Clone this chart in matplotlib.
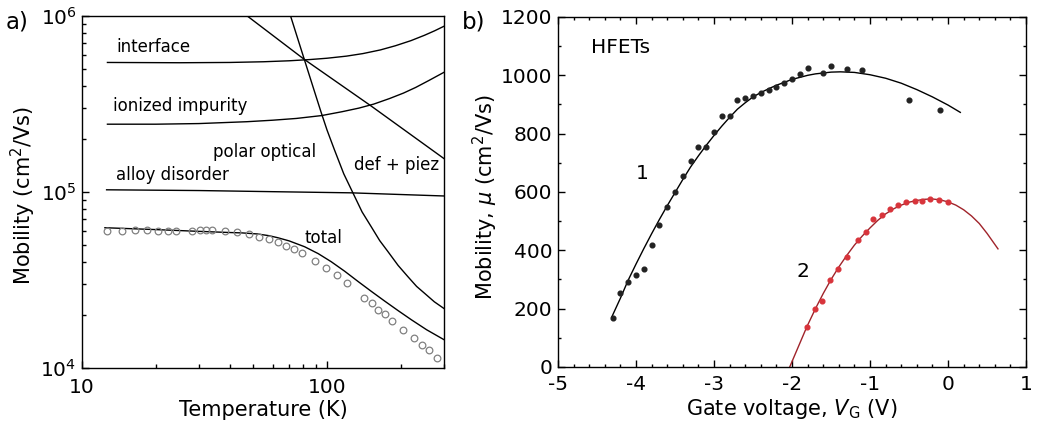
# mobility.py
# (a) scattering-limited mobility vs temperature, (b) HFET mobility vs gate voltage
import numpy as np
import matplotlib
matplotlib.use('Agg')
import matplotlib.pyplot as plt
from matplotlib.ticker import FixedLocator, FixedFormatter, NullFormatter, LogLocator, MultipleLocator

plt.rcParams['font.family'] = ['DejaVu Sans']
plt.rcParams['mathtext.fontset'] = 'dejavusans'
plt.rcParams['axes.unicode_minus'] = False

# ---- panel a: mobility (cm^2/Vs) vs T (K)
T_interface = [12.7, 25, 40, 55, 70, 85, 100, 120, 140, 165, 190, 220, 250, 275, 300]
mu_interface = [5.45e5, 5.43e5, 5.45e5, 5.50e5, 5.57e5, 5.66e5, 5.76e5, 5.92e5,
                6.12e5, 6.42e5, 6.78e5, 7.25e5, 7.78e5, 8.25e5, 8.75e5]

T_ionized = [12.7, 20, 30, 47, 60, 75, 95, 115, 135, 155, 180, 205, 230, 260, 300]
mu_ionized = [2.43e5, 2.43e5, 2.45e5, 2.51e5, 2.56e5, 2.62e5, 2.72e5, 2.86e5,
              3.0e5, 3.16e5, 3.40e5, 3.65e5, 3.93e5, 4.30e5, 4.79e5]

T_alloy = [12.6, 30, 60, 125, 300]
mu_alloy = [1.03e5, 1.02e5, 1.005e5, 9.9e4, 9.5e4]

T_defpiez = [47.3, 80.8, 151, 300]
mu_defpiez = [1.0e6, 5.67e5, 3.09e5, 1.55e5]

T_polar = [71, 76, 81, 87.5, 94.5, 100, 107, 117, 127.5, 139, 151.5, 164, 177,
           195, 214, 232, 250, 274, 300]
mu_polar = [1.0e6, 7.41e5, 5.6e5, 3.99e5, 2.85e5, 2.25e5, 1.75e5, 1.27e5, 9.9e4,
            7.71e4, 6.35e4, 5.3e4, 4.6e4, 3.83e4, 3.3e4, 2.91e4, 2.66e4, 2.38e4,
            2.18e4]

T_total = [12.4, 20, 30, 40, 45, 52, 58, 63, 70, 81, 92, 104, 118, 134, 152,
           172, 195, 221, 255, 300]
mu_total = [6.27e4, 6.12e4, 5.98e4, 5.89e4, 5.86e4, 5.78e4, 5.65e4, 5.5e4,
            5.28e4, 4.89e4, 4.47e4, 4.02e4, 3.55e4, 3.1e4, 2.72e4, 2.4e4,
            2.12e4, 1.88e4, 1.65e4, 1.45e4]

T_meas = [12.6, 14.5, 16.5, 18.4, 20.4, 22.4, 24.3, 28.2, 30.2, 32.1, 34, 38.2,
          42.8, 47.9, 53, 58.2, 63.2, 68.3, 73.5, 79, 89.3, 99.4, 110, 121,
          141, 152, 162, 173, 184, 205, 226, 244, 260, 281]
mu_meas = [6.00e4, 6.00e4, 6.08e4, 6.08e4, 6.03e4, 6.03e4, 6.03e4, 5.98e4,
           6.08e4, 6.11e4, 6.08e4, 6.00e4, 5.90e4, 5.75e4, 5.57e4, 5.38e4,
           5.18e4, 4.96e4, 4.76e4, 4.52e4, 4.06e4, 3.72e4, 3.38e4, 3.03e4,
           2.51e4, 2.33e4, 2.14e4, 2.02e4, 1.86e4, 1.64e4, 1.49e4, 1.35e4,
           1.27e4, 1.14e4]

# ---- panel b: mobility vs gate voltage
V1_dots = [-4.3, -4.2, -4.1, -4.0, -3.9, -3.8, -3.7, -3.6, -3.5, -3.4, -3.3,
           -3.2, -3.1, -3.0, -2.9, -2.8, -2.7, -2.6, -2.5, -2.4, -2.3, -2.2,
           -2.1, -2.0, -1.9, -1.8, -1.6, -1.5, -1.3, -1.1, -0.5, -0.1]
mu1_dots = [167, 255, 292, 316, 335, 417, 486, 547, 600, 655, 705, 755, 753,
            805, 859, 859, 917, 923, 929, 938, 948, 960, 974, 989, 1005, 1025,
            1008, 1031, 1022, 1018, 916, 882]
V1_fit = [-4.31, -4.2, -4.1, -4.0, -3.9, -3.8, -3.7, -3.6, -3.5, -3.4, -3.3,
          -3.2, -3.1, -3.0, -2.9, -2.8, -2.7, -2.6, -2.5, -2.4, -2.3, -2.2,
          -2.09, -2.0, -1.9, -1.8, -1.7, -1.6, -1.5, -1.38, -1.2, -1.0, -0.8,
          -0.6, -0.4, -0.2, 0.0, 0.157]
mu1_fit = [172, 236, 298, 353, 406, 457, 506, 553, 598, 643, 686, 724, 760,
           794, 826, 856, 884, 906, 926, 941, 954, 966, 977, 986, 993, 1000,
           1005, 1008, 1011, 1012, 1010, 1002, 990, 973, 951, 926, 898, 873]

V2_dots = [-1.81, -1.71, -1.61, -1.51, -1.41, -1.29, -1.15, -1.05, -0.96,
           -0.85, -0.74, -0.64, -0.54, -0.43, -0.33, -0.23, -0.11, 0.0]
mu2_dots = [138, 198, 227, 299, 335, 376, 436, 462, 508, 520, 543, 556, 566,
            570, 569, 576, 571, 567]
V2_fit = [-2.03, -1.92, -1.81, -1.7, -1.6, -1.5, -1.4, -1.3, -1.2, -1.1, -1.0,
          -0.9, -0.8, -0.7, -0.6, -0.5, -0.4, -0.3, -0.2, -0.1, 0.0, 0.1, 0.2,
          0.3, 0.4, 0.5, 0.64]
mu2_fit = [0, 69, 138, 200, 252, 300, 343, 382, 418, 449, 477, 503, 525, 542,
           555, 565, 571, 575, 576, 573, 566, 555, 539, 518, 492, 458, 405]

fig = plt.figure(figsize=(10.38, 4.25), dpi=100)

# ================= panel a
ax = fig.add_axes([0.079, 0.134, 0.3487, 0.8282])
ax.set_xscale('log')
ax.set_yscale('log')
for T, mu in [(T_interface, mu_interface), (T_ionized, mu_ionized),
              (T_alloy, mu_alloy), (T_defpiez, mu_defpiez),
              (T_polar, mu_polar), (T_total, mu_total)]:
    ax.plot(T, mu, color='black', lw=1.0)
ax.plot(T_meas, mu_meas, 'o', mfc='none', mec='#808080', ms=4.8, mew=0.9)
ax.set_xlim(10, 300)
ax.set_ylim(1e4, 1e6)

ax.xaxis.set_major_locator(FixedLocator([10, 100]))
ax.xaxis.set_major_formatter(FixedFormatter(['10', '100']))
ax.xaxis.set_minor_locator(FixedLocator([20, 30, 40, 50, 60, 70, 80, 90, 200, 300]))
ax.xaxis.set_minor_formatter(NullFormatter())
ax.yaxis.set_major_locator(LogLocator(base=10, numticks=5))
ax.yaxis.set_minor_locator(LogLocator(base=10, subs=np.arange(2, 10), numticks=20))
ax.yaxis.set_minor_formatter(NullFormatter())
ax.tick_params(which='both', direction='in', labelsize=14.5, width=1)
ax.tick_params(axis='x', which='major', length=5, pad=7)
ax.tick_params(axis='y', which='major', length=5, pad=4)
ax.tick_params(which='minor', length=3)
for s in ax.spines.values():
    s.set_linewidth(1)

ax.set_xlabel('Temperature (K)', fontsize=15, labelpad=2)
ax.set_ylabel('Mobility (cm$^2$/Vs)', fontsize=15)
ax.yaxis.set_label_coords(-0.121, 0.49)

ax.text(13.8, 6.67e5, 'interface', fontsize=12, va='center')
ax.text(13.4, 3.08e5, 'ionized impurity', fontsize=12, va='center')
ax.text(34.4, 1.69e5, 'polar optical', fontsize=12, va='center')
ax.text(13.8, 1.25e5, 'alloy disorder', fontsize=12, va='center')
ax.text(129, 1.42e5, 'def + piez', fontsize=12, va='center')
ax.text(80.6, 5.48e4, 'total', fontsize=12, va='center')

fig.text(0.005, 0.934, 'a)', fontsize=16.5, va='baseline')

# ================= panel b
bx = fig.add_axes([0.5376, 0.1365, 0.4509, 0.8235])
bx.plot(V1_fit, mu1_fit, color='black', lw=1.0)
bx.plot(V1_dots, mu1_dots, 'o', color='#222222', ms=3.4)
bx.plot(V2_fit, mu2_fit, color='#a0232a', lw=1.0)
bx.plot(V2_dots, mu2_dots, 'o', color='#d8343b', ms=3.4)
bx.set_xlim(-5, 1)
bx.set_ylim(0, 1200)
bx.xaxis.set_major_locator(MultipleLocator(1))
bx.xaxis.set_minor_locator(MultipleLocator(0.2))
bx.yaxis.set_major_locator(MultipleLocator(200))
bx.yaxis.set_minor_locator(MultipleLocator(100))
bx.tick_params(which='both', direction='in', top=True, right=True,
               labelsize=14.5, width=1)
bx.tick_params(axis='x', which='major', length=5, pad=6)
bx.tick_params(axis='y', which='major', length=5, pad=4)
bx.tick_params(which='minor', length=2.5)
for s in bx.spines.values():
    s.set_linewidth(1)

bx.set_xlabel('Gate voltage, $V_\\mathrm{G}$ (V)', fontsize=15, labelpad=2)
bx.set_ylabel('Mobility, $\\mu$ (cm$^2$/Vs)', fontsize=15)
bx.yaxis.set_label_coords(-0.124, 0.484)

bx.text(-4.58, 1095, 'HFETs', fontsize=14.5, va='center')
bx.text(-3.92, 663, '1', fontsize=14.5, va='center', ha='center')
bx.text(-1.86, 327, '2', fontsize=14.5, va='center', ha='center')

fig.text(0.445, 0.934, 'b)', fontsize=16.5, va='baseline')

plt.savefig('out.png', dpi=100)
